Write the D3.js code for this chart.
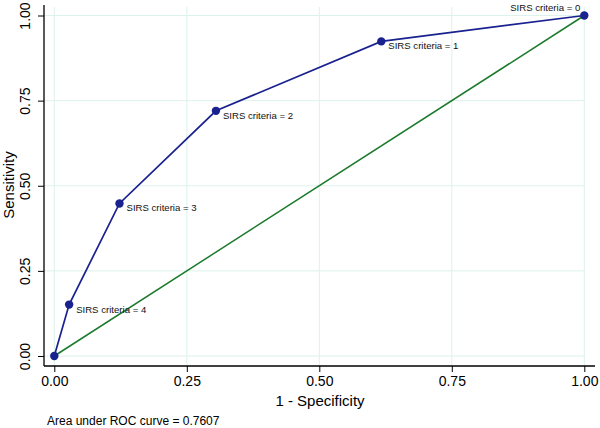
<!DOCTYPE html>
<html><head><meta charset="utf-8">
<script src="https://cdn.jsdelivr.net/npm/d3@7"></script>
<style>body{margin:0;background:#fff;}svg{display:block;font-family:"Liberation Sans",Arial,sans-serif;}</style>
</head><body>
<svg id="c" width="600" height="428"></svg>
<script>
const fpr = [0, 0.028, 0.123, 0.305, 0.617, 1.0];
const tpr = [0, 0.151, 0.448, 0.720, 0.924, 1.0];
const pointLabels = ["", "SIRS criteria = 4", "SIRS criteria = 3", "SIRS criteria = 2", "SIRS criteria = 1", "SIRS criteria = 0"];
const refLine = [[0, 0], [1, 1]];
const tickValues = [0, 0.25, 0.5, 0.75, 1];
const aucText = "Area under ROC curve = 0.7607";

(function () {
const svg = d3.select("#c");
const x = d3.scaleLinear().domain([0, 1]).range([54.3, 584.3]);
const y = d3.scaleLinear().domain([0, 1]).range([356, 15.5]);
const pLeft = 44, pRight = 595, pTop = 5, pBottom = 366;
const blue = "#1a2290", green = "#1b7a2c", grid = "#dcf2ec";

// grid
svg.append("g").selectAll("line").data(tickValues).join("line")
  .attr("x1", d => x(d)).attr("x2", d => x(d)).attr("y1", pTop + 2).attr("y2", pBottom)
  .attr("stroke", grid).attr("stroke-width", 1);
svg.append("g").selectAll("line").data(tickValues).join("line")
  .attr("y1", d => y(d)).attr("y2", d => y(d)).attr("x1", pLeft).attr("x2", pRight - 10)
  .attr("stroke", grid).attr("stroke-width", 1);

// axes
const fmt = d3.format(".2f");
const xa = svg.append("g").attr("transform", `translate(0,${pBottom})`)
  .call(d3.axisBottom(x).tickValues(tickValues).tickFormat(fmt).tickSize(6).tickPadding(4));
xa.select(".domain").attr("d", `M${pLeft},0H${pRight}`).attr("stroke", "#000").attr("stroke-width", 1.3);
xa.selectAll("text").attr("font-size", 14).attr("fill", "#000").attr("font-family", "Liberation Sans, Arial, sans-serif");
xa.selectAll("line").attr("stroke", "#000");

const ya = svg.append("g").attr("transform", `translate(${pLeft},0)`)
  .call(d3.axisLeft(y).tickValues(tickValues).tickFormat(fmt).tickSize(6).tickPadding(4));
ya.select(".domain").attr("d", `M0,${pTop}V${pBottom}`).attr("stroke", "#000").attr("stroke-width", 1.3);
ya.selectAll("line").attr("stroke", "#000");
ya.selectAll("text").attr("font-size", 14).attr("fill", "#000").attr("font-family", "Liberation Sans, Arial, sans-serif")
  .attr("text-anchor", "middle").attr("dy", null).attr("x", null)
  .attr("transform", "translate(-19,0) rotate(-90)").attr("dominant-baseline", "central");

// reference line
svg.append("path").datum(refLine)
  .attr("d", d3.line().x(d => x(d[0])).y(d => y(d[1])))
  .attr("fill", "none").attr("stroke", green).attr("stroke-width", 1.5);

// ROC curve
const pts = fpr.map((v, i) => ({x: v, y: tpr[i], lab: pointLabels[i]}));
svg.append("path").datum(pts)
  .attr("d", d3.line().x(d => x(d.x)).y(d => y(d.y)))
  .attr("fill", "none").attr("stroke", blue).attr("stroke-width", 1.7);
svg.append("g").selectAll("circle").data(pts).join("circle")
  .attr("cx", d => x(d.x)).attr("cy", d => y(d.y)).attr("r", 4.2).attr("fill", blue);

// point labels
svg.append("g").selectAll("text").data(pts.filter(d => d.lab)).join("text")
  .attr("x", d => d.x === 1 ? x(d.x) - 4 : x(d.x) + 7)
  .attr("y", d => d.x === 1 ? y(d.y) - 5 : y(d.y) + 8)
  .attr("text-anchor", d => d.x === 1 ? "end" : "start")
  .attr("font-size", 9.6).attr("fill", "#111").text(d => d.lab);

// titles
svg.append("text").attr("x", 320).attr("y", 406).attr("text-anchor", "middle")
  .attr("font-size", 15).attr("fill", "#000").text("1 - Specificity");
svg.append("text").attr("transform", "translate(14,185) rotate(-90)").attr("text-anchor", "middle")
  .attr("font-size", 15).attr("fill", "#000").text("Sensitivity");
svg.append("text").attr("x", 47).attr("y", 425)
  .attr("font-size", 12).attr("fill", "#000").text(aucText);
})();
</script>
</body></html>
